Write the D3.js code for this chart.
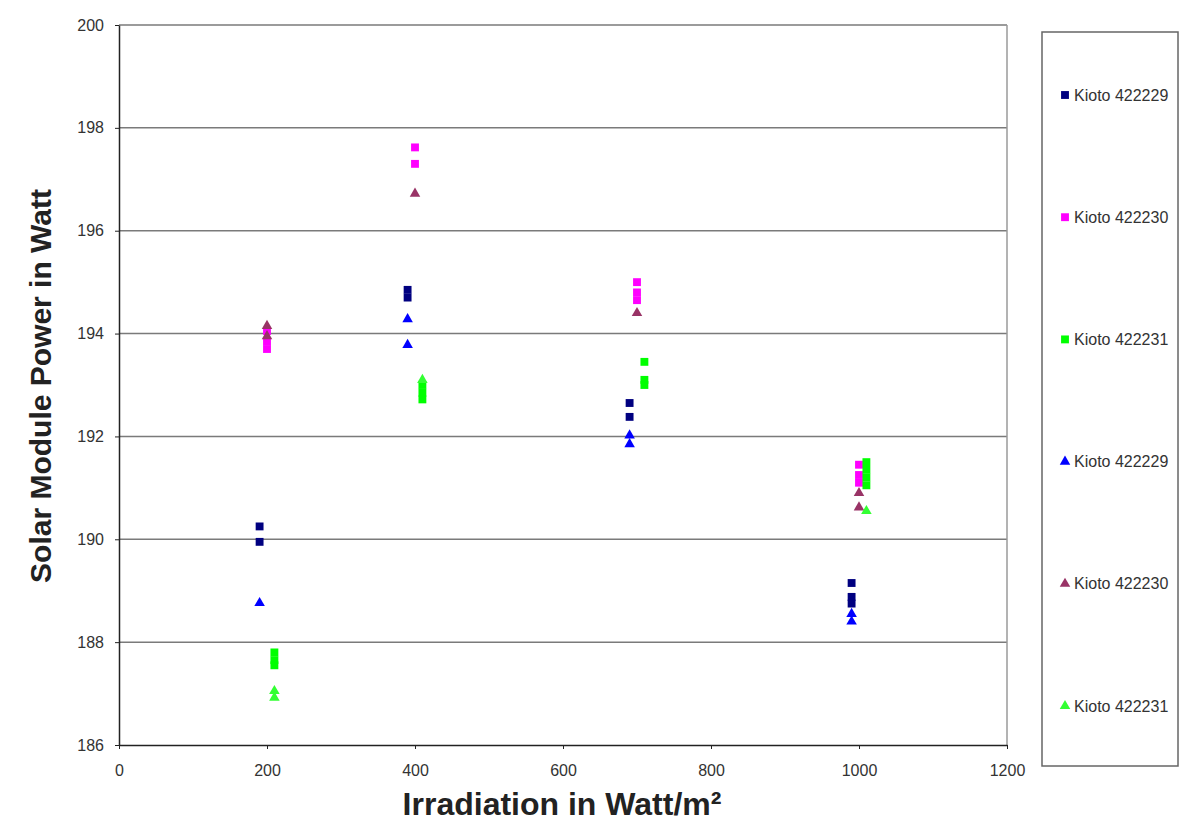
<!DOCTYPE html>
<html>
<head>
<meta charset="utf-8">
<script src="https://cdn.jsdelivr.net/npm/d3@7"></script>
<style>
  body { margin: 0; background: #fff; }
  svg { font-family: "Liberation Sans", Arial, sans-serif; }
</style>
</head>
<body>
<svg id="chart" width="1180" height="822"></svg>
<script>
  // measured values, [irradiation, power]
  const kioto229Sq = [[190, 190.25], [190, 189.95], [390, 194.85], [390, 194.7], [690, 192.65], [690, 192.38], [990, 189.15], [990, 188.88], [990, 188.75]];
  const kioto230Sq = [[200, 194.05], [200, 193.85], [200, 193.7], [400, 197.62], [400, 197.3], [700, 195.0], [700, 194.8], [700, 194.65], [1000, 191.45], [1000, 191.25], [1000, 191.1]];
  const kioto231Sq = [[210, 187.8], [210, 187.65], [210, 187.55], [410, 193.0], [410, 192.85], [410, 192.72], [710, 193.45], [710, 193.1], [710, 193.0], [1010, 191.5], [1010, 191.35], [1010, 191.2], [1010, 191.05]];
  const kioto229Tri = [[190, 188.76], [390, 194.28], [390, 193.78], [690, 192.02], [690, 191.85], [990, 188.55], [990, 188.4]];
  const kioto230Tri = [[200, 194.15], [200, 193.95], [400, 196.72], [700, 194.4], [1000, 190.9], [1000, 190.62]];
  const kioto231Tri = [[210, 187.05], [210, 186.92], [410, 193.1], [1010, 190.55]];

  const series = [
    { name: "Kioto 422229", shape: "square", color: "#000080", data: kioto229Sq },
    { name: "Kioto 422230", shape: "square", color: "#ff00ff", data: kioto230Sq },
    { name: "Kioto 422231", shape: "square", color: "#00ff00", data: kioto231Sq },
    { name: "Kioto 422229", shape: "triangle", color: "#0000ff", data: kioto229Tri },
    { name: "Kioto 422230", shape: "triangle", color: "#993366", data: kioto230Tri },
    { name: "Kioto 422231", shape: "triangle", color: "#33ff33", data: kioto231Tri }
  ];

  const xTicks = [0, 200, 400, 600, 800, 1000, 1200];
  const yTicks = [186, 188, 190, 192, 194, 196, 198, 200];

  const svg = d3.select("#chart");
  const margin = { top: 25, right: 173, bottom: 77, left: 119 };
  const width = 1180 - margin.left - margin.right;
  const height = 822 - margin.top - margin.bottom;

  const x = d3.scaleLinear().domain([0, 1200]).range([0, width]);
  const y = d3.scaleLinear().domain([186, 200]).range([height, 0]);

  const g = svg.append("g").attr("transform", `translate(${margin.left},${margin.top})`);

  // grid lines
  g.append("g")
    .selectAll("line")
    .data(yTicks.slice(1))
    .join("line")
    .attr("x1", 0).attr("x2", width)
    .attr("y1", d => y(d)).attr("y2", d => y(d))
    .attr("stroke", "#7a7a7a").attr("stroke-width", 1.5);

  // right border of plot area
  g.append("line")
    .attr("x1", width).attr("x2", width)
    .attr("y1", 0).attr("y2", height)
    .attr("stroke", "#9a9a9a").attr("stroke-width", 1.5);

  const xAxis = g.append("g")
    .attr("transform", `translate(0,${height})`)
    .call(d3.axisBottom(x).tickValues(xTicks).tickFormat(d3.format("d"))
      .tickSize(4).tickPadding(16).tickSizeOuter(0));
  const yAxis = g.append("g")
    .call(d3.axisLeft(y).tickValues(yTicks).tickFormat(d3.format("d"))
      .tickSize(4).tickPadding(11).tickSizeOuter(0));

  [xAxis, yAxis].forEach(a => {
    a.select(".domain").attr("stroke", "#222").attr("stroke-width", 1.5);
    a.selectAll(".tick line").attr("stroke", "#222");
    a.selectAll(".tick text").attr("font-size", 16).attr("fill", "#333")
      .attr("font-family", "Liberation Sans, Arial, sans-serif");
  });

  const sq = d3.symbol().type(d3.symbolSquare).size(62);
  const tri = d3.symbol().type(d3.symbolTriangle).size(48);

  series.forEach(s => {
    g.append("g")
      .selectAll("path")
      .data(s.data)
      .join("path")
      .attr("d", s.shape === "square" ? sq : tri)
      .attr("transform", d => `translate(${x(d[0])},${y(d[1])})`)
      .attr("fill", s.color);
  });

  // axis titles
  svg.append("text")
    .attr("x", 562)
    .attr("y", 815)
    .attr("text-anchor", "middle")
    .attr("font-size", 32)
    .attr("font-weight", "bold")
    .attr("fill", "#222")
    .text("Irradiation in Watt/m²");

  svg.append("text")
    .attr("transform", "translate(51,386) rotate(-90)")
    .attr("text-anchor", "middle")
    .attr("font-size", 30)
    .attr("font-weight", "bold")
    .attr("fill", "#222")
    .text("Solar Module Power in Watt");

  // legend
  const legend = svg.append("g");
  legend.append("rect")
    .attr("x", 1042).attr("y", 32)
    .attr("width", 136).attr("height", 734)
    .attr("fill", "none").attr("stroke", "#666").attr("stroke-width", 1.5);

  const legendY = d3.scalePoint().domain(d3.range(series.length)).range([95, 706]);
  const items = legend.selectAll(".item")
    .data(series)
    .join("g")
    .attr("transform", (d, i) => `translate(1065,${legendY(i)})`);
  items.append("path")
    .attr("d", d => (d.shape === "square" ? sq : tri)())
    .attr("fill", d => d.color);
  items.append("text")
    .attr("x", 9).attr("dy", "0.35em")
    .attr("font-size", 16)
    .attr("fill", "#333")
    .text(d => d.name);
</script>
</body>
</html>
